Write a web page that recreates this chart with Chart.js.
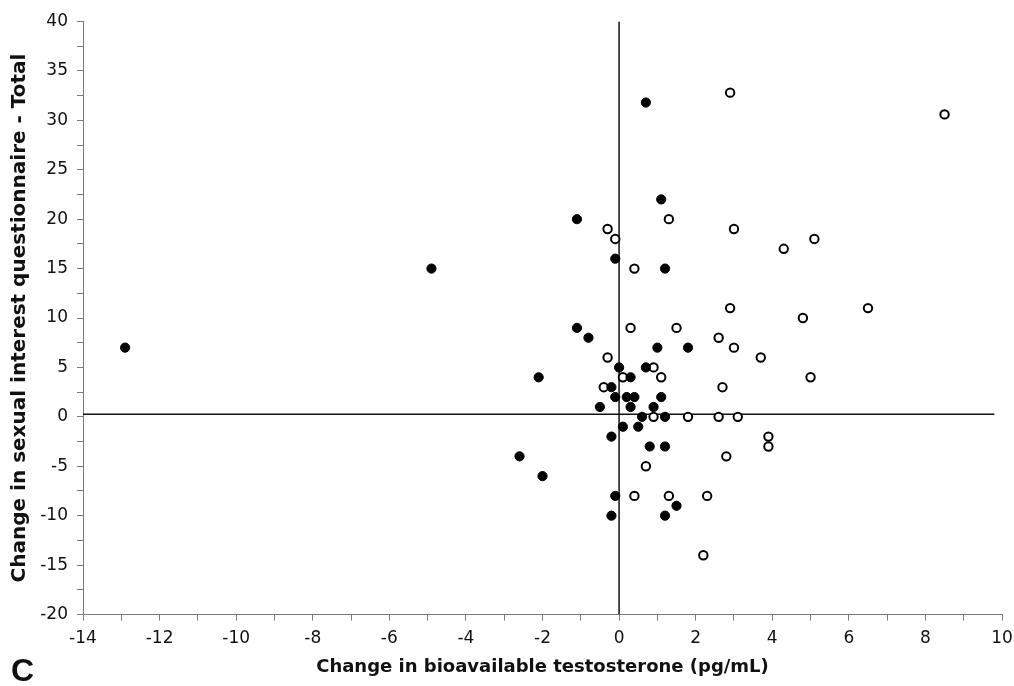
<!DOCTYPE html>
<html>
<head>
<meta charset="utf-8">
<script src="https://cdn.jsdelivr.net/npm/chart.js@4.4.1/dist/chart.umd.min.js"></script>
<style>
  html, body { margin: 0; padding: 0; background: #fff; }
  #wrap { width: 1014px; height: 686px; position: relative; }
</style>
</head>
<body>
<div id="wrap"><canvas id="scatterChart" width="1014" height="686"></canvas></div>
<script>
// filled circles
const filledX = [-12.9, -4.9, -1.1, 0.7, 1.1, -0.1, 1.2, -1.1, -0.8, 1.0, 1.8, -2.1, 0.0, 0.7, 0.3,
  -0.2, -0.1, 0.2, 0.4, 1.1, -0.5, 0.3, 0.9, 0.6, 1.2, 0.1, 0.5, -0.2, 0.8, 1.2, -2.6, -2.0,
  -0.1, 1.5, -0.2, 1.2];
const filledY = [7, 15, 20, 31.8, 22, 16, 15, 9, 8, 7, 7, 4, 5, 5, 4,
  3, 2, 2, 2, 2, 1, 1, 1, 0, 0, -1, -1, -2, -3, -3, -4, -6,
  -8, -9, -10, -10];

// open circles
const openX = [2.9, 8.5, 1.3, 3.0, -0.3, -0.1, 5.1, 4.3, 0.4, 2.9, 6.5, 4.8, 0.3, 1.5, 2.6, 3.0,
  3.7, -0.3, 0.9, 0.1, 1.1, 5.0, -0.4, 2.7, 0.9, 1.8, 2.6, 3.1, 3.9, 3.9, 2.8, 0.7,
  0.4, 1.3, 2.3, 2.2];
const openY = [32.8, 30.6, 20, 19, 19, 18, 18, 17, 15, 11, 11, 10, 9, 9, 8, 7,
  6, 6, 5, 4, 4, 4, 3, 3, 0, 0, 0, 0, -2, -3, -4, -5,
  -8, -8, -8, -14];

// reference lines
const hLineX = [-14, 9.8];
const hLineY = [0.25, 0.25];
const vLineX = [0, 0];
const vLineY = [-20, 40];

const xTitle = "Change in bioavailable testosterone (pg/mL)";
const yTitle = "Change in sexual interest questionnaire - Total";
const panelLabel = "C";

function toPoints(xs, ys) {
  return xs.map((x, i) => ({ x: x, y: ys[i] }));
}

const tickFont = { family: "DejaVu Sans", size: 17 };
const axisGray = "#7a7a7a";

// letter in the bottom left corner
const panelPlugin = {
  id: "panelLabel",
  afterDraw(chart) {
    const c = chart.ctx;
    c.save();
    c.fillStyle = "#111";
    c.font = "bold 32px 'Liberation Sans'";
    c.textBaseline = "alphabetic";
    c.fillText(panelLabel, 11, 681);
    c.restore();
  },
};

const ctx = document.getElementById("scatterChart").getContext("2d");
const chart = new Chart(ctx, {
  type: "scatter",
  data: {
    datasets: [
      {
        label: "filled",
        data: toPoints(filledX, filledY),
        backgroundColor: "#000",
        borderColor: "#000",
        borderWidth: 1,
        pointRadius: 4.6,
      },
      {
        label: "open",
        data: toPoints(openX, openY),
        backgroundColor: "#fff",
        borderColor: "#000",
        borderWidth: 2,
        pointRadius: 4.2,
      },
      {
        label: "h",
        data: toPoints(hLineX, hLineY),
        showLine: true,
        borderColor: "#111",
        borderWidth: 1.5,
        pointRadius: 0,
      },
      {
        label: "v",
        data: toPoints(vLineX, vLineY),
        showLine: true,
        borderColor: "#111",
        borderWidth: 1.5,
        pointRadius: 0,
      },
    ],
  },
  options: {
    responsive: false,
    animation: false,
    layout: { padding: { left: 0, right: 0, top: 21.5, bottom: 0 } },
    plugins: {
      legend: { display: false },
      tooltip: { enabled: false },
    },
    scales: {
      x: {
        type: "linear",
        min: -14,
        max: 10,
        afterFit: (s) => {
          s.height = 71.5;
          s.paddingRight = 12;
        },
        border: { color: axisGray, width: 1 },
        grid: { drawOnChartArea: false, drawTicks: true, tickLength: 6, color: axisGray },
        ticks: {
          stepSize: 1,
          autoSkip: false,
          maxRotation: 0,
          padding: 8,
          color: "#111",
          font: tickFont,
          callback: (v) => (v % 2 === 0 ? v : ""),
        },
        title: {
          display: true,
          text: xTitle,
          color: "#111",
          font: { family: "DejaVu Sans", size: 18, weight: "bold" },
          padding: { top: 0, bottom: 8 },
        },
      },
      y: {
        type: "linear",
        min: -20,
        max: 40,
        afterFit: (s) => { s.width = 83; },
        border: { color: axisGray, width: 1 },
        grid: { drawOnChartArea: false, drawTicks: true, tickLength: 6, color: axisGray },
        ticks: {
          stepSize: 2.5,
          autoSkip: false,
          padding: 9,
          color: "#111",
          font: tickFont,
          callback: (v) => (v % 5 === 0 ? v : ""),
        },
        title: {
          display: true,
          text: yTitle,
          color: "#111",
          font: { family: "DejaVu Sans", size: 20, weight: "bold" },
          padding: { top: 8, bottom: 0 },
        },
      },
    },
  },
  plugins: [panelPlugin],
});
</script>
</body>
</html>
